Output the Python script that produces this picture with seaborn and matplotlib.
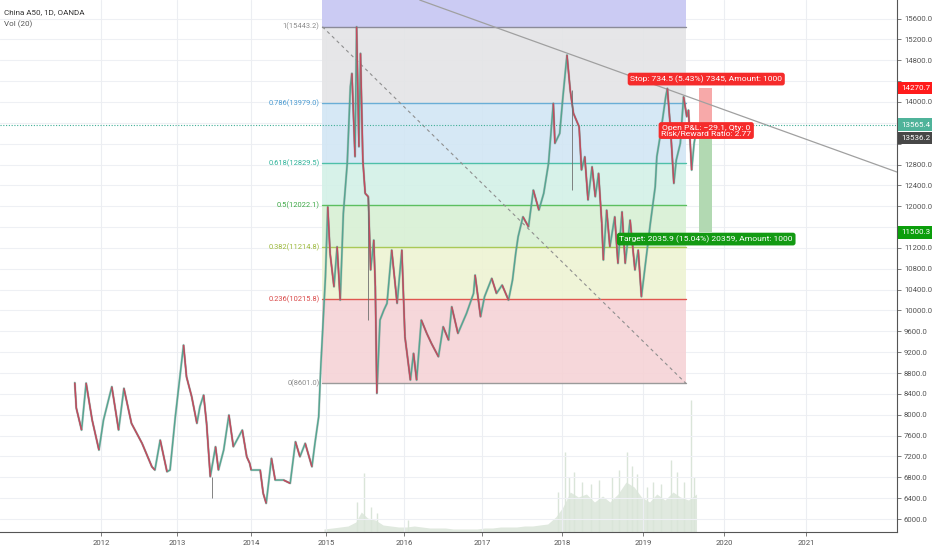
"""
China A50 daily chart with Fibonacci retracement, trend lines and a short position.
"""

import numpy as np
import pandas as pd
import matplotlib
matplotlib.use("Agg")
import matplotlib.pyplot as plt
from matplotlib.collections import LineCollection
import seaborn as sns

# Closing prices (decimal year, price)
PRICE_YEAR = [
    2011.65, 2011.67, 2011.74, 2011.80, 2011.88, 2011.97, 2012.03, 2012.14, 2012.23, 2012.30,
    2012.40, 2012.54, 2012.67, 2012.71, 2012.78, 2012.87, 2012.91, 2012.98, 2013.09, 2013.13,
    2013.20, 2013.27, 2013.31, 2013.36, 2013.40, 2013.45, 2013.52, 2013.56, 2013.63, 2013.70,
    2013.76, 2013.88, 2013.94, 2013.98, 2014.00, 2014.12, 2014.16, 2014.20, 2014.27, 2014.32,
    2014.43, 2014.52, 2014.59, 2014.65, 2014.72, 2014.81, 2014.85, 2014.90, 2014.93, 2014.96,
    2014.99, 2015.02, 2015.05, 2015.10, 2015.14, 2015.18, 2015.22, 2015.27, 2015.31, 2015.33,
    2015.37, 2015.39, 2015.42, 2015.44, 2015.47, 2015.50, 2015.54, 2015.57, 2015.61, 2015.63,
    2015.65, 2015.69, 2015.74, 2015.78, 2015.84, 2015.91, 2015.97, 2016.01, 2016.08, 2016.12,
    2016.16, 2016.22, 2016.29, 2016.35, 2016.44, 2016.50, 2016.57, 2016.61, 2016.69, 2016.80,
    2016.89, 2016.91, 2016.98, 2017.03, 2017.12, 2017.18, 2017.25, 2017.33, 2017.38, 2017.42,
    2017.45, 2017.51, 2017.58, 2017.64, 2017.71, 2017.77, 2017.83, 2017.89, 2017.91, 2017.97,
    2018.01, 2018.06, 2018.10, 2018.14, 2018.21, 2018.24, 2018.28, 2018.32, 2018.37, 2018.41,
    2018.45, 2018.49, 2018.51, 2018.55, 2018.59, 2018.65, 2018.69, 2018.74, 2018.78, 2018.84,
    2018.90, 2018.94, 2018.98, 2019.03, 2019.09, 2019.15, 2019.17, 2019.21, 2019.28, 2019.30,
    2019.34, 2019.38, 2019.41, 2019.46, 2019.50, 2019.54, 2019.56, 2019.60, 2019.63, 2019.67,
]
PRICE_CLOSE = [
    8614, 8129, 7707, 8608, 7899, 7323, 7899, 8538, 7707, 8507,
    7835, 7452, 7003, 6940, 7515, 6907, 6940, 7962, 9337, 8729,
    8346, 7835, 8154, 8378, 7835, 6812, 7387, 6940, 7323, 7995,
    7387, 7707, 7195, 7068, 6940, 6940, 6493, 6301, 7164, 6748,
    6748, 6685, 7483, 7195, 7452, 7003, 7452, 7962, 8986, 9800,
    10648, 11990, 11096, 10456, 11223, 10200, 11863, 12822, 14292, 14548,
    12950, 15442, 13141, 14932, 12886, 12247, 12183, 10776, 11351, 10456,
    8410, 9817, 10009, 10137, 11160, 10137, 11160, 9497, 8666, 9178,
    8666, 9817, 9561, 9369, 9113, 9689, 9433, 10072, 9561, 9945,
    10328, 10680, 9880, 10264, 10616, 10328, 10488, 10200, 10584, 11096,
    11414, 11798, 11606, 12310, 11926, 12247, 12822, 13973, 13206, 13397,
    14100, 14900, 14228, 13781, 13525, 12694, 12950, 12119, 12758, 12183,
    12631, 11671, 10968, 11926, 11223, 11798, 10904, 11894, 10904, 11735,
    10776, 11160, 10264, 10904, 11671, 12374, 12950, 13333, 14100, 14260,
    13461, 12438, 12886, 13206, 14100, 13717, 13845, 12694, 13206, 13565,
]

# A few long wicks (year, low, high)
WICK_YEAR = [2013.47, 2015.53, 2018.12]
WICK_LOW = [6403, 9817, 12310]
WICK_HIGH = [6812, 12183, 14228]

# Volume (Vol 20), base level and single-day spikes
VOL_YEAR = [
    2014.97, 2015.08, 2015.18, 2015.28, 2015.38, 2015.45, 2015.53, 2015.63, 2015.73, 2015.83,
    2015.93, 2016.03, 2016.13, 2016.23, 2016.33, 2016.43, 2016.53, 2016.63, 2016.73, 2016.83,
    2016.93, 2017.03, 2017.13, 2017.23, 2017.33, 2017.43, 2017.53, 2017.63, 2017.72, 2017.82,
    2017.92, 2018.01, 2018.10, 2018.20, 2018.30, 2018.40, 2018.50, 2018.59, 2018.69, 2018.79,
    2018.89, 2018.98, 2019.08, 2019.17, 2019.27, 2019.37, 2019.46, 2019.56, 2019.66,
]
VOL_VALUE = [
    3, 4, 5, 6, 10, 20, 14, 12, 7, 6,
    5, 5, 6, 5, 4, 4, 4, 3, 3, 3,
    3, 4, 4, 5, 5, 5, 6, 6, 7, 8,
    15, 25, 40, 35, 38, 30, 36, 30, 38, 50,
    45, 35, 30, 38, 32, 40, 35, 32, 38,
]
VOL_SPIKE_YEAR = [
    2015.40, 2015.48, 2015.58, 2015.65, 2016.05, 2017.95, 2018.03, 2018.08, 2018.15, 2018.25,
    2018.36, 2018.45, 2018.62, 2018.70, 2018.80, 2018.86, 2018.92, 2019.05, 2019.12, 2019.22,
    2019.35, 2019.42, 2019.50, 2019.59, 2019.63,
]
VOL_SPIKE_VALUE = [
    30, 59, 25, 19, 12, 40, 80, 55, 60, 50,
    48, 52, 55, 62, 80, 66, 58, 45, 50, 48,
    72, 60, 50, 132, 55,
]

# Fibonacci retracement
FIB_START, FIB_END = 2014.95, 2019.53
FIB_RATIO = ["1", "0.786", "0.618", "0.5", "0.382", "0.236", "0"]
FIB_PRICE = [15443.2, 13979.0, 12829.5, 12022.1, 11214.8, 10215.8, 8601.0]
FIB_LINE_COLOR = ["#8b8b98", "#6aaed6", "#4ec0a9", "#5cbf60", "#a9c957", "#e0554f", "#9a9a9a"]
FIB_TEXT_COLOR = ["#8b8b8b", "#4a9ad0", "#30b39a", "#3ca844", "#9bb83a", "#d94848", "#8b8b8b"]
FIB_FILL = ["#e4e4e6", "#d2e6f4", "#d3f1e7", "#d8f0d4", "#eef3d3", "#f6d3d6"]
FIB_TOP_FILL = "#cbcbf3"

# Short position
ENTRY, STOP, TARGET, LAST = 13536.2, 14270.7, 11500.3, 13565.4
POS_START, POS_END = 2019.69, 2019.85

# Trend lines (year, price)
TREND_YEAR = [2016.20, 2022.11]
TREND_PRICE = [15955, 12656]

# Calendar years versus trading-bar position on the time axis
YEAR_KNOTS = [2010, 2012, 2013, 2014, 2015, 2016, 2017, 2018, 2019, 2020, 2021, 2023]
BAR_KNOTS = [-1.93, 0, 0.966, 1.916, 2.874, 3.870, 4.866, 5.888, 6.922, 7.957, 9.004, 11.098]
YEARS = list(range(2012, 2022))
PRICE_TICKS = np.arange(6000, 15601, 400)
HIDDEN_TICKS = [14400, 13600, 13200, 11600]  # covered by the price tags


def to_bar(x):
    return np.interp(x, YEAR_KNOTS, BAR_KNOTS)


def to_year(x):
    return np.interp(x, BAR_KNOTS, YEAR_KNOTS)


sns.set_theme(style="white")
plt.rcParams["font.family"] = ["Roboto", "DejaVu Sans"]

fig = plt.figure(figsize=(9.32, 5.5), dpi=100)
ax = fig.add_axes([0, 18 / 550, 897 / 932, 532 / 550])
ax.set_xscale("function", functions=(to_bar, to_year))
ax.set_xlim(2010.66, 2022.11)
ax.set_ylim(5751, 15956)

vol_ax = ax.twinx()
ax.set_zorder(vol_ax.get_zorder() + 1)
ax.patch.set_visible(False)
vol_ax.set_ylim(0, 532)
vol_ax.set_yticks([])
for s in vol_ax.spines.values():
    s.set_visible(False)

# grid
for yv in PRICE_TICKS:
    ax.axhline(yv, color="#eef0f4", lw=0.8, zorder=0)
for yr in YEARS:
    ax.axvline(yr, color="#eceef2", lw=0.8, zorder=0)

# volume
vol_ax.fill_between(VOL_YEAR, 0, VOL_VALUE, color="#e0e9df", lw=0, zorder=1)
vol_ax.vlines(VOL_SPIKE_YEAR, 0, VOL_SPIKE_VALUE, color="#dae5d9", lw=1.0, zorder=1)

# fibonacci zones
ax.fill_between([FIB_START, FIB_END], FIB_PRICE[0], 15956, color=FIB_TOP_FILL, lw=0, zorder=1)
for i in range(len(FIB_FILL)):
    ax.fill_between([FIB_START, FIB_END], FIB_PRICE[i + 1], FIB_PRICE[i],
                    color=FIB_FILL[i], alpha=0.9, lw=0, zorder=1)
for ratio, price, lc, tc in zip(FIB_RATIO, FIB_PRICE, FIB_LINE_COLOR, FIB_TEXT_COLOR):
    ax.plot([FIB_START, FIB_END], [price, price], color=lc, lw=1.0, zorder=2)
    ax.annotate(f"{ratio}({price:.1f})", xy=(FIB_START, price), xytext=(-2, 0),
                textcoords="offset points", ha="right", va="center",
                fontsize=5.4, color=tc, zorder=5)

# diagonal of the retracement and the falling trend line
ax.plot([FIB_START, FIB_END], [FIB_PRICE[0], FIB_PRICE[-1]], color="#8f8f8f",
        lw=0.8, ls=(0, (3, 3)), zorder=3)
ax.plot(TREND_YEAR, TREND_PRICE, color="#a0a0a0", lw=0.9, zorder=3)

# last price line
ax.axhline(LAST, color="#3fae95", lw=0.8, ls=(0, (1, 1.5)), zorder=3)

# price path: rising legs green, falling legs red, over a faint wick shadow
df = pd.DataFrame({"year": PRICE_YEAR, "close": PRICE_CLOSE})
sns.lineplot(data=df, x="year", y="close", ax=ax, color="#8a8a8a", lw=1.8, alpha=0.35, zorder=4)
sns.lineplot(data=df, x="year", y="close", ax=ax, color="#56a591", lw=1.1, zorder=4)
pts = df[["year", "close"]].to_numpy()
down = [[pts[i - 1], pts[i]] for i in range(1, len(pts)) if pts[i, 1] < pts[i - 1, 1]]
ax.add_collection(LineCollection(down, colors="#c44a5e", lw=1.1, zorder=4))
ax.vlines(WICK_YEAR, WICK_LOW, WICK_HIGH, color="#6f6f6f", lw=0.6, zorder=4)

# short position tool
ax.fill_between([POS_START, POS_END], ENTRY, STOP, color="#f7a9a9", lw=0, zorder=2)
ax.fill_between([POS_START, POS_END], TARGET, ENTRY, color="#b2d9b2", lw=0, zorder=2)
mid = 2019.78
box = dict(boxstyle="round,pad=0.3", lw=0)
ax.text(mid, 14439, "Stop: 734.5 (5.43%) 7345, Amount: 1000", ha="center", va="center",
        fontsize=6.1, color="white", bbox={**box, "fc": "#f52b2b"}, zorder=6)
ax.text(mid, 13452, "Open P&L: \u221229.1, Qty: 0\nRisk/Reward Ratio: 2.77", ha="center",
        va="center", fontsize=6.1, color="white", linespacing=0.95,
        bbox={**box, "fc": "#f52b2b"}, zorder=6)
ax.text(mid, 11370, "Target: 2035.9 (15.04%) 20359, Amount: 1000", ha="center", va="center",
        fontsize=6.1, color="white", bbox={**box, "fc": "#139a13"}, zorder=6)

# axes styling
ax.yaxis.tick_right()
ax.set_yticks(PRICE_TICKS)
ax.set_yticklabels(["" if v in HIDDEN_TICKS else f"{v:.1f}" for v in PRICE_TICKS])
ax.set_xticks(YEARS)
ax.set_xticklabels([str(y) for y in YEARS])
ax.xaxis.set_minor_locator(matplotlib.ticker.NullLocator())
ax.tick_params(axis="y", right=True, length=3, width=0.6, color="#666666", pad=2,
               labelsize=5.6, labelcolor="#555555")
ax.tick_params(axis="x", bottom=True, length=3, width=0.6, color="#666666", pad=3,
               labelsize=5.6, labelcolor="#555555")
ax.set_xlabel("")
ax.set_ylabel("")
for side in ["top", "left"]:
    ax.spines[side].set_visible(False)
for side in ["right", "bottom"]:
    ax.spines[side].set_color("#555555")
    ax.spines[side].set_linewidth(0.8)

# right-hand price tags
tags = [(STOP, "#ff1a1a", 0), (LAST, "#4fb39a", 0), (ENTRY, "#474747", -8.5), (TARGET, "#0b9e0b", 0)]
for price, colour, dy in tags:
    ax.annotate(f"{price:.1f}", xy=(1.0, price), xycoords=ax.get_yaxis_transform(),
                xytext=(3, dy), textcoords="offset points", ha="left", va="center",
                fontsize=5.8, color="white", annotation_clip=False,
                bbox=dict(boxstyle="square,pad=0.4", fc=colour, lw=0), zorder=7)

fig.text(0.004, 0.978, "China A50, 1D, OANDA", fontsize=5.8, color="#333333", va="center")
fig.text(0.004, 0.956, "Vol (20)", fontsize=5.8, color="#555555", va="center")

fig.savefig("out.png", dpi=100)
plt.close(fig)
